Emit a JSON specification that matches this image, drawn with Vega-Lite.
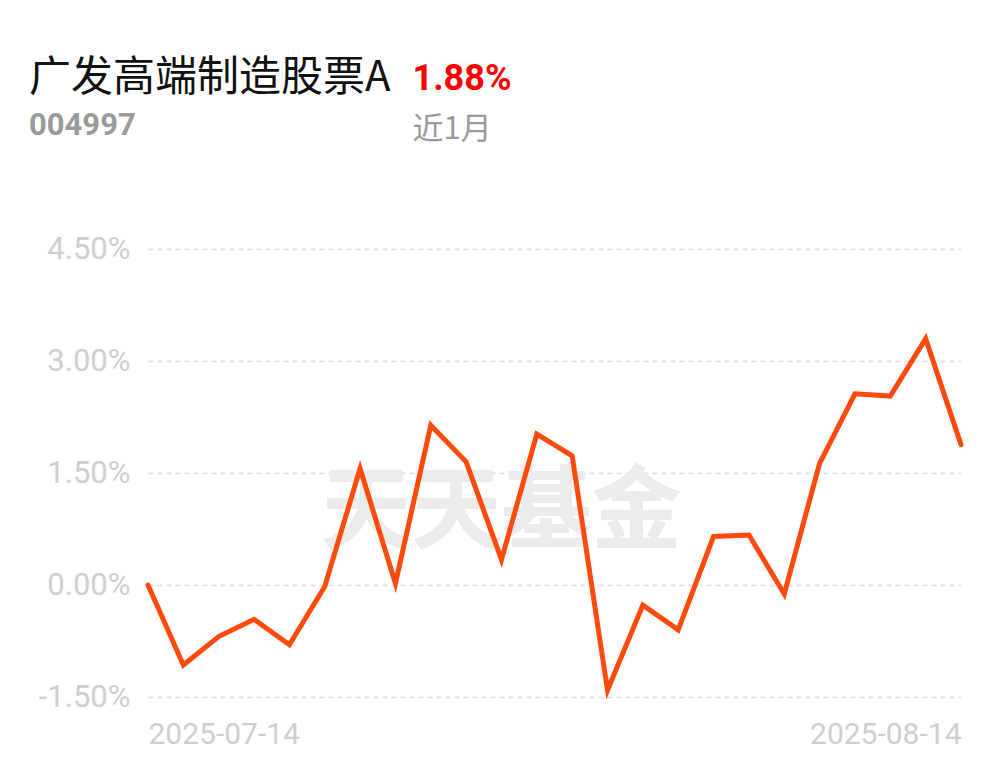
{
  "$schema": "https://vega.github.io/schema/vega-lite/v6.json",
  "width": 813,
  "height": 448,
  "autosize": {"type": "none"},
  "padding": {"left": 148, "top": 249, "right": 40, "bottom": 69},
  "background": "#ffffff",
  "config": {"view": {"stroke": null}, "font": "Roboto"},
  "title": {
    "text": "广发高端制造股票A",
    "subtitle": "004997",
    "anchor": "start",
    "frame": "group",
    "dx": -119,
    "font": "Noto Sans CJK SC",
    "fontSize": 42,
    "fontWeight": "normal",
    "color": "#111111",
    "subtitleFont": "Roboto",
    "subtitleFontSize": 31,
    "subtitleFontWeight": "bold",
    "subtitleColor": "#9a9a9a",
    "subtitlePadding": 11,
    "offset": -82
  },
  "data": {
    "values": [
      {"date": "2025-07-14", "ret": 0.00},
      {"date": "2025-07-15", "ret": -1.07},
      {"date": "2025-07-16", "ret": -0.69},
      {"date": "2025-07-17", "ret": -0.46},
      {"date": "2025-07-18", "ret": -0.80},
      {"date": "2025-07-21", "ret": -0.02},
      {"date": "2025-07-22", "ret": 1.56},
      {"date": "2025-07-23", "ret": 0.02},
      {"date": "2025-07-24", "ret": 2.14},
      {"date": "2025-07-25", "ret": 1.65},
      {"date": "2025-07-28", "ret": 0.34},
      {"date": "2025-07-29", "ret": 2.02},
      {"date": "2025-07-30", "ret": 1.73},
      {"date": "2025-07-31", "ret": -1.41},
      {"date": "2025-08-01", "ret": -0.27},
      {"date": "2025-08-04", "ret": -0.60},
      {"date": "2025-08-05", "ret": 0.65},
      {"date": "2025-08-06", "ret": 0.67},
      {"date": "2025-08-07", "ret": -0.12},
      {"date": "2025-08-08", "ret": 1.63},
      {"date": "2025-08-11", "ret": 2.56},
      {"date": "2025-08-12", "ret": 2.53},
      {"date": "2025-08-13", "ret": 3.30},
      {"date": "2025-08-14", "ret": 1.88}
    ]
  },
  "encoding": {
    "x": {
      "field": "date",
      "type": "ordinal",
      "sort": "ascending",
      "scale": {"type": "point", "padding": 0},
      "axis": {
        "title": "近1月",
        "titleX": 264,
        "titleY": -559,
        "titleAlign": "left",
        "titleBaseline": "alphabetic",
        "titleAngle": 0,
        "titleFont": "Noto Sans CJK SC",
        "titleFontSize": 31,
        "titleFontWeight": "normal",
        "titleColor": "#9a9a9a",
        "domain": false,
        "ticks": false,
        "tickSize": 0,
        "grid": false,
        "labelAngle": 0,
        "labelFontSize": 30,
        "labelColor": "#cfcfcf",
        "labelFont": "Roboto",
        "labelBaseline": "alphabetic",
        "labelPadding": 46,
        "labelOverlap": false,
        "labelExpr": "datum.value == '2025-07-14' || datum.value == '2025-08-14' ? datum.value : ''",
        "labelAlign": {"condition": {"test": "datum.value == '2025-07-14'", "value": "left"}, "value": "right"}
      }
    },
    "y": {
      "field": "ret",
      "type": "quantitative",
      "scale": {"domain": [-1.5, 4.5], "nice": false, "zero": false},
      "axis": {
        "values": [-1.5, 0, 1.5, 3, 4.5],
        "title": "1.88%",
        "titleX": 264,
        "titleY": -160,
        "titleAngle": 0,
        "titleAlign": "left",
        "titleBaseline": "alphabetic",
        "titleFont": "Roboto",
        "titleFontSize": 36,
        "titleFontWeight": "bold",
        "titleColor": "#ff0000",
        "domain": false,
        "ticks": false,
        "tickSize": 0,
        "labelFontSize": 31,
        "labelColor": "#cfcfcf",
        "labelFont": "Roboto",
        "labelPadding": 18,
        "labelExpr": "(datum.value < 0 ? '-' : '') + format(abs(datum.value), '.2f') + '%'",
        "grid": true,
        "gridColor": "#e3e3e3",
        "gridWidth": 2,
        "gridDash": [5, 4]
      }
    }
  },
  "layer": [
    {
      "mark": {
        "type": "text",
        "text": "天天基金",
        "font": "Noto Sans CJK SC",
        "fontSize": 90,
        "fontWeight": "bold",
        "color": "#ececec",
        "align": "center",
        "baseline": "middle"
      },
      "encoding": {
        "x": {"datum": "2025-07-28"},
        "y": {"datum": 0.95}
      }
    },
    {
      "mark": {
        "type": "line",
        "color": "#ff4a0c",
        "strokeWidth": 5,
        "strokeJoin": "miter",
        "strokeCap": "round"
      }
    }
  ]
}
